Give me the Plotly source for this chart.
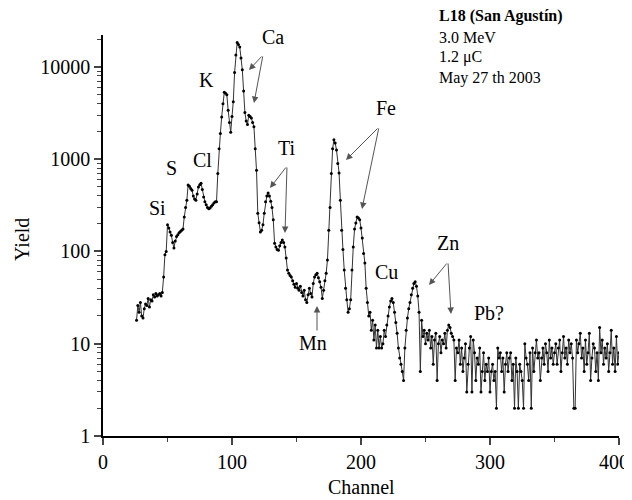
import plotly.graph_objects as go
import math

# ---- data ----
channels = list(range(26, 401))
counts = [
    # 26-45
    18, 26, 22, 28, 20, 19, 24, 27, 26, 31, 25, 30, 29, 34, 32, 35, 33, 34, 35, 33,
    # 46-65
    36, 53, 92, 100, 195, 180, 163, 150, 125, 109, 130, 145, 152, 160, 165, 170, 175, 237, 300, 360,
    # 66-85
    525, 510, 480, 460, 400, 370, 360, 420, 500, 530, 550, 470, 390, 345, 320, 300, 290, 295, 310, 320,
    # 86-105
    335, 345, 345, 700, 1300, 1900, 2870, 4000, 5300, 5200, 5000, 3400, 2500, 1960, 2900, 4200, 8700, 13500, 18400, 17500,
    # 106-125
    16400, 12500, 9300, 5500, 3200, 2600, 2370, 3000, 2900, 2800, 2500, 2250, 1300, 760, 260, 205, 163, 170, 195, 260,
    # 126-145
    345, 400, 430, 400, 350, 300, 220, 123, 112, 105, 103, 115, 125, 133, 125, 112, 85, 63, 58, 55,
    # 146-165
    53, 48, 44, 41, 45, 40, 38, 42, 36, 33, 38, 30, 28, 34, 40, 35, 32, 45, 53, 56,
    # 166-185
    58, 52, 47, 41, 31, 38, 48, 58, 81, 170, 300, 700, 1300, 1620, 1500, 1260, 900, 710, 360, 170,
    # 186-205
    105, 63, 40, 30, 22, 24, 30, 63, 112, 175, 204, 237, 230, 220, 180, 140, 95, 75, 40, 28,
    # 206-225
    20, 22, 14, 18, 11, 16, 9, 14, 9, 12, 9, 10, 14, 12, 16, 20, 25, 29, 31, 28,
    # 226-245
    22, 17, 13, 9, 7, 6, 5, 4, 9, 14, 19, 24, 28, 34, 40, 45, 47, 42, 33, 22,
    # 246-265
    5, 18, 12, 14, 10, 13, 11, 14, 9, 12, 6, 11, 13, 4, 10, 12, 8, 11, 10, 13,
    # 266-285
    9, 14, 16, 15, 13, 12, 11, 4, 9, 8, 11, 6, 9, 5, 7, 10, 3, 6, 9, 12,
    # 286-305
    3, 11, 8, 4, 7, 6, 9, 3, 5, 8, 4, 6, 5, 7, 3, 5, 6, 4, 5, 2,
    # 306-325
    9, 7, 8, 5, 7, 3, 6, 8, 5, 7, 8, 4, 6, 2, 7, 5, 2, 6, 5, 4,
    # 326-345
    2, 10, 7, 6, 4, 8, 2, 9, 5, 8, 11, 7, 8, 4, 7, 9, 6, 10, 8, 5,
    # 346-365
    11, 7, 9, 6, 8, 10, 6, 9, 11, 5, 8, 12, 7, 9, 6, 11, 8, 10, 7, 2,
    # 366-385
    2, 11, 8, 10, 13, 7, 9, 5, 11, 6, 8, 13, 4, 7, 10, 9, 5, 8, 4, 15,
    # 386-400
    8, 11, 6, 9, 7, 10, 5, 8, 14, 6, 9, 5, 12, 6, 8,
]

x_ticks = [0, 100, 200, 300, 400]
x_ticktext = ["0", "100", "200", "300", ""]   # last label drawn separately so it stays inside the page
x_last_label = "400"
y_ticks = [1, 10, 100, 1000, 10000]
y_ticktext = ["1", "10", "100", "1000", "10000"]

element_labels = ["Ca", "K", "Cl", "S", "Si", "Ti", "Fe", "Mn", "Cu", "Zn", "Pb?"]
info_lines = ["<b>L18 (San Agustín)</b>", "3.0 MeV", "1.2 μC", "May 27 th 2003"]

FONT = "Liberation Serif, Times New Roman, serif"

fig = go.Figure()
fig.add_trace(go.Scatter(
    x=channels, y=counts, mode="lines+markers",
    line=dict(color="#333333", width=1),
    marker=dict(color="black", size=3, symbol="circle"),
    showlegend=False,
))

# helpers: positions measured in screen pixels of the reference (plot area 103..619 x, 35..436 y)
def px2x(px):
    return (px - 103) / 516 * 400

def px2ly(py):
    return (436 - py) / 401 * 4.346

label_px = [(273, 37), (206, 80), (202, 160), (171, 168), (157, 208), (287, 148),
            (386, 108), (313, 343), (386, 272), (448, 243), (489, 313)]
ann = []
for t, (px, py) in zip(element_labels, label_px):
    ann.append(dict(x=px2x(px), y=px2ly(py), xref="x", yref="y", text=t, showarrow=False,
                    font=dict(family=FONT, size=20, color="black"), xanchor="center", yanchor="middle"))

arrows = [
    ((263, 55), (249, 70)), ((263, 55), (254, 103)),
    ((287, 166), (270, 188)), ((287, 166), (285, 233)),
    ((379, 127), (346, 160)), ((379, 127), (362, 209)),
    ((317, 332), (317, 306)),
    ((448, 262), (429, 285)), ((448, 262), (451, 314)),
]
for (tx, ty), (hx, hy) in arrows:
    ann.append(dict(x=px2x(hx), y=px2ly(hy), ax=px2x(tx), ay=px2ly(ty), xref="x", yref="y",
                    axref="x", ayref="y", text="", showarrow=True, arrowhead=2, arrowsize=1.3,
                    arrowwidth=1, arrowcolor="#555555", standoff=0, startstandoff=0))

info_y = [16, 37, 57, 78]
for t, py in zip(info_lines, info_y):
    ann.append(dict(x=(437 - 103) / 516, y=(436 - py) / 401, xref="paper", yref="paper", text=t,
                    showarrow=False, xanchor="left", yanchor="middle",
                    font=dict(family=FONT, size=16, color="black")))

ann.append(dict(x=400, y=0, xref="x", yref="paper", text=x_last_label, showarrow=False,
                xanchor="right", yanchor="top", xshift=12, yshift=-13,
                font=dict(family=FONT, size=20, color="black")))

ann.append(dict(x=0.5, y=(436 - 487) / 401, xref="paper", yref="paper", text="Channel", showarrow=False,
                xanchor="center", yanchor="middle", font=dict(family=FONT, size=20, color="black")))
ann.append(dict(x=(22 - 103) / 516, y=(436 - 240) / 401, xref="paper", yref="paper", text="Yield",
                showarrow=False, textangle=-90, xanchor="center", yanchor="middle",
                font=dict(family=FONT, size=20, color="black")))

# the page body has an 8px margin: figure is 8px smaller so the page is exactly 632x500
fig.update_layout(
    width=624, height=492,
    margin=dict(l=95, r=13, t=27, b=64, autoexpand=False),
    paper_bgcolor="white", plot_bgcolor="white",
    font=dict(family=FONT, color="black"),
    annotations=ann,
    xaxis=dict(range=[0, 400], tickvals=x_ticks, ticktext=x_ticktext, ticks="outside", ticklen=7,
               tickwidth=1.5, showline=True, linecolor="black", linewidth=1.5, showgrid=False,
               zeroline=False, automargin=False,
               tickfont=dict(family=FONT, size=20, color="black"),
               minor=dict(ticks="outside", ticklen=4, tickwidth=1.2, dtick=50, showgrid=False)),
    yaxis=dict(type="log", range=[0, 4.346], tickvals=y_ticks, ticktext=y_ticktext, ticks="outside",
               ticklen=7, tickwidth=1.5, showline=True, linecolor="black", linewidth=1.5,
               automargin=False,
               showgrid=False, zeroline=False, tickfont=dict(family=FONT, size=20, color="black"),
               minor=dict(ticks="outside", ticklen=4, tickwidth=1, dtick="D1", showgrid=False)),
)

fig.write_html("out.html")
